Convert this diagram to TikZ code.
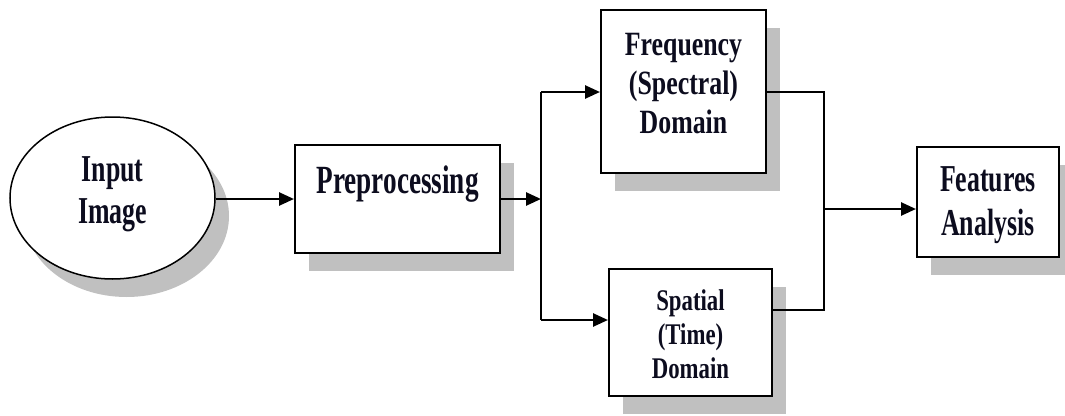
\documentclass[tikz,border=0pt]{standalone}
\usepackage{fontspec}
\setmainfont{Liberation Serif}
\newfontfamily\boxfont{Liberation Serif}[FakeStretch=0.76]
\newfontfamily\narrowfont{Liberation Serif}[FakeStretch=0.68]
\usetikzlibrary{arrows.meta,shapes.geometric,shadows}
\definecolor{shadegray}{RGB}{192,192,192}
\definecolor{inkcol}{RGB}{12,12,30}
\tikzset{
  castshadow/.style={general shadow={shadow xshift=14pt, shadow yshift=-18pt, fill=shadegray, draw=none}},
  blockbox/.style={rectangle, draw=black, line width=2pt, fill=white, inner sep=0pt, castshadow},
  wire/.style={line width=2.6pt, draw=black},
  arrow/.style={wire, -{Triangle[length=15pt,width=13pt]}},
  lbl/.style={text=inkcol, align=center, inner sep=0pt},
}
\begin{document}
\begin{tikzpicture}[x=1pt,y=-1pt]
\useasboundingbox (0,0) rectangle (1065,415);

% blocks
\node[ellipse, draw=black, line width=1.5pt, fill=white, castshadow,
      minimum width=205pt, minimum height=162pt, inner sep=0pt] (input) at (112.5,198) {};
\node[blockbox, minimum width=205pt, minimum height=108pt] (pre)  at (397.5,199) {};
\node[blockbox, minimum width=165pt, minimum height=163pt] (freq) at (683.5,91.5) {};
\node[blockbox, minimum width=163pt, minimum height=127pt] (spat) at (690.5,332.5) {};
\node[blockbox, minimum width=142pt, minimum height=110pt] (feat) at (988,202) {};

% block texts
\node[lbl, font=\narrowfont\bfseries\fontsize{38}{42}\selectfont] (inputtxt) at (112.5,194) {Input\\Image};
\node[lbl, anchor=base, font=\narrowfont\bfseries\fontsize{40}{42}\selectfont] (pretxt) at (397.5,193) {Preprocessing};
\node[lbl, font=\boxfont\bfseries\fontsize{34}{39}\selectfont] (freqtxt) at (683.5,84) {Frequency\\(Spectral)\\Domain};
\node[lbl, font=\boxfont\bfseries\fontsize{30}{34}\selectfont] (spattxt) at (690.5,334) {Spatial\\(Time)\\Domain};
\node[lbl, font=\narrowfont\bfseries\fontsize{38}{44}\selectfont] (feattxt) at (988,205) {Features\\Analysis};

% junction points
\coordinate (split)  at (541,199);
\coordinate (splitt) at (541,92);
\coordinate (splitb) at (541,320);
\coordinate (mergt)  at (824,92);
\coordinate (mergb)  at (824,310);
\coordinate (merg)   at (824,209);

% connectors
\draw[arrow] (input.east |- pre.west) -- (pre.west);
\draw[arrow] (pre.east) -- (split);
\draw[wire] (splitt) -- (splitb);
\draw[arrow] (splitt) -- (splitt -| freq.west);
\draw[arrow] (splitb) -- (splitb -| spat.west);
\draw[wire] (mergt -| freq.east) -- (mergt) -- (mergb) -- (mergb -| spat.east);
\draw[arrow] (merg) -- (merg -| feat.west);
\end{tikzpicture}
\end{document}
